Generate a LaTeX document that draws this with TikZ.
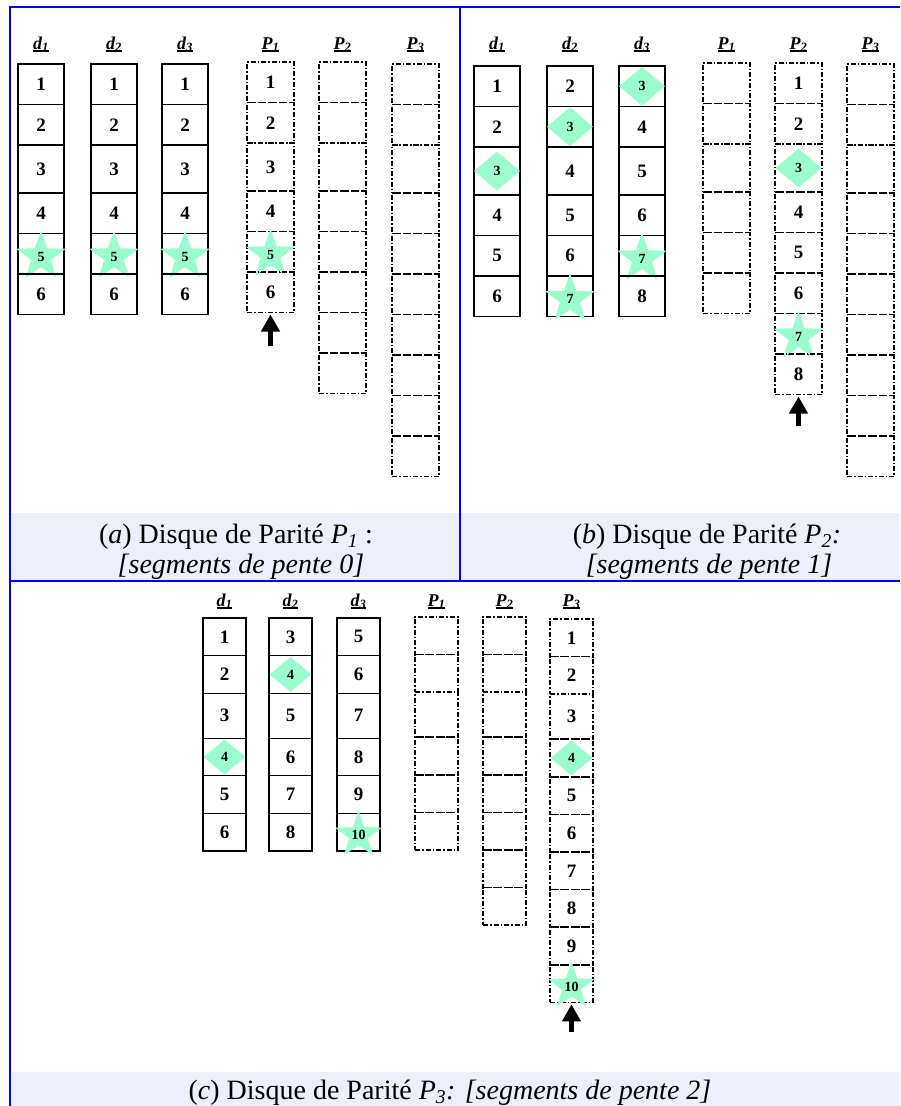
\documentclass[tikz,border=0pt]{standalone}
\usepackage{fontspec}
\setmainfont{Liberation Serif}
\usetikzlibrary{shapes.geometric,arrows.meta}
\definecolor{mint}{RGB}{155,252,206}
\definecolor{capbg}{RGB}{237,240,250}
\definecolor{frameblue}{RGB}{0,0,255}
\newcommand\myul[1]{{\setbox0\hbox{#1}\rlap{\rule[-2.6pt]{\wd0}{1.4pt}}\box0}}
\tikzset{
  cellsolid/.style={draw=black, line width=1.3pt, inner sep=0pt, outer sep=0pt,
    font=\fontsize{19}{19}\selectfont\bfseries},
  celldash/.style={draw=black, line width=1.7pt, dash pattern=on 5pt off 2pt on 1.5pt off 2pt,
    inner sep=0pt, outer sep=0pt, font=\fontsize{19}{19}\selectfont\bfseries},
  dmark/.style={diamond, fill=mint, inner sep=0pt, minimum width=46pt, minimum height=39pt,
    font=\fontsize{14}{14}\selectfont\bfseries},
  smark/.style={star, star points=5, star point ratio=2.5, fill=mint, inner sep=0pt,
    minimum size=52pt, font=\fontsize{14}{14}\selectfont\bfseries},
  lbl/.style={anchor=base, inner sep=0pt, font=\fontsize{18}{18}\selectfont\bfseries\itshape},
  captext/.style={anchor=base, inner sep=0pt, font=\fontsize{28}{28}\selectfont},
  framel/.style={draw=frameblue, line width=2pt},
  uparrow/.style={line width=5pt, -{Triangle[width=18pt,length=17pt]}}
}
% #1 name, #2 x left, #3 y top, #4 width, #5 row height, #6 tall row height, #7 style, #8 list
\newcommand\mkcol[8]{%
  \foreach [count=\i] \t/\l in {#8} {%
    \pgfmathsetmacro\ytop{#3+(\i-1)*#5+(\i>3)*(#6-#5)}%
    \pgfmathsetmacro\hgt{#5+(\i==3)*(#6-#5)}%
    \pgfmathsetmacro\xc{#2+#4/2}%
    \pgfmathsetmacro\yc{\ytop+\hgt/2}%
    \node[#7, minimum width=#4pt, minimum height=\hgt pt] (#1-\i) at (\xc,\yc) {\if n\t\l\fi};
    \if d\t \node[dmark] (#1-\i-m) at (#1-\i.center) {\l};\fi
    \if s\t \node[smark] (#1-\i-m) at ([yshift=-3pt]#1-\i.center) {\l};\fi
  }%
}
\begin{document}
\begin{tikzpicture}[x=1pt,y=-1pt]
\useasboundingbox (0,0) rectangle (900,1106);
% caption backgrounds
\fill[capbg] (11,513) rectangle (459,580);
\fill[capbg] (461,513) rectangle (900,580);
\fill[capbg] (11,1072) rectangle (900,1106);

% ---------------- panel (a)
\mkcol{a-d1}{18}{64}{46}{40.5}{48}{cellsolid}{n/1,n/2,n/3,n/4,s/5,n/6}
\mkcol{a-d2}{91}{64}{46}{40.5}{48}{cellsolid}{n/1,n/2,n/3,n/4,s/5,n/6}
\mkcol{a-d3}{162}{64}{46}{40.5}{48}{cellsolid}{n/1,n/2,n/3,n/4,s/5,n/6}
\mkcol{a-P1}{247}{62}{47}{40.5}{48}{celldash}{n/1,n/2,n/3,n/4,s/5,n/6}
\mkcol{a-P2}{319}{62}{47}{40.5}{48}{celldash}{e/{},e/{},e/{},e/{},e/{},e/{},e/{},e/{}}
\mkcol{a-P3}{392}{64}{47}{40.5}{48}{celldash}{e/{},e/{},e/{},e/{},e/{},e/{},e/{},e/{},e/{},e/{}}
\node[lbl] (a-l1) at (41,49) {\myul{d\textsubscript{1}}};
\node[lbl] (a-l2) at (114,49) {\myul{d\textsubscript{2}}};
\node[lbl] (a-l3) at (185,49) {\myul{d\textsubscript{3}}};
\node[lbl] (a-l4) at (270.5,49) {\myul{P\textsubscript{1}}};
\node[lbl] (a-l5) at (342.5,49) {\myul{P\textsubscript{2}}};
\node[lbl] (a-l6) at (415.5,49) {\myul{P\textsubscript{3}}};
\coordinate (a-arr) at (270.5,346);
\draw[uparrow] (a-arr) -- ([yshift=-2pt]a-P1-6.south);
\node[captext] (capa1) at (236,543) {(\textit{a}) Disque de Parité \textit{P\textsubscript{1}} :};
\node[captext] (capa2) at (241,573) {\textit{[segments de pente 0]}};

% ---------------- panel (b)
\mkcol{b-d1}{474}{66}{46}{40.5}{48}{cellsolid}{n/1,n/2,d/3,n/4,n/5,n/6}
\mkcol{b-d2}{547}{66}{46}{40.5}{48}{cellsolid}{n/2,d/3,n/4,n/5,n/6,s/7}
\mkcol{b-d3}{619}{66}{46}{40.5}{48}{cellsolid}{d/3,n/4,n/5,n/6,s/7,n/8}
\mkcol{b-P1}{703}{63}{47}{40.5}{48}{celldash}{e/{},e/{},e/{},e/{},e/{},e/{}}
\mkcol{b-P2}{775}{63}{47}{40.5}{48}{celldash}{n/1,n/2,d/3,n/4,n/5,n/6,s/7,n/8}
\mkcol{b-P3}{847}{64}{47}{40.5}{48}{celldash}{e/{},e/{},e/{},e/{},e/{},e/{},e/{},e/{},e/{},e/{}}
\node[lbl] (b-l1) at (497,49) {\myul{d\textsubscript{1}}};
\node[lbl] (b-l2) at (570,49) {\myul{d\textsubscript{2}}};
\node[lbl] (b-l3) at (642,49) {\myul{d\textsubscript{3}}};
\node[lbl] (b-l4) at (726.5,49) {\myul{P\textsubscript{1}}};
\node[lbl] (b-l5) at (798.5,49) {\myul{P\textsubscript{2}}};
\node[lbl] (b-l6) at (870.5,49) {\myul{P\textsubscript{3}}};
\coordinate (b-arr) at (798.5,426);
\draw[uparrow] (b-arr) -- ([yshift=-2pt]b-P2-8.south);
\node[captext] (capb1) at (707,543) {(\textit{b}) Disque de Parité \textit{P\textsubscript{2}:}};
\node[captext] (capb2) at (709,573) {\textit{[segments de pente 1]}};

% ---------------- panel (c)
\begin{scope}[dmark/.append style={minimum width=42pt, minimum height=35pt},
              smark/.append style={minimum size=47pt}]
\mkcol{c-d1}{203}{618}{43}{37.6}{45}{cellsolid}{n/1,n/2,n/3,d/4,n/5,n/6}
\mkcol{c-d2}{269}{618}{43}{37.6}{45}{cellsolid}{n/3,d/4,n/5,n/6,n/7,n/8}
\mkcol{c-d3}{337}{618}{43}{37.6}{45}{cellsolid}{n/5,n/6,n/7,n/8,n/9,s/10}
\mkcol{c-P1}{415}{617}{43}{37.6}{45}{celldash}{e/{},e/{},e/{},e/{},e/{},e/{}}
\mkcol{c-P2}{483}{617}{43}{37.6}{45}{celldash}{e/{},e/{},e/{},e/{},e/{},e/{},e/{},e/{}}
\mkcol{c-P3}{550}{619}{43}{37.6}{45}{celldash}{n/1,n/2,n/3,d/4,n/5,n/6,n/7,n/8,n/9,s/10}
\end{scope}
\node[lbl] (c-l1) at (224.5,606) {\myul{d\textsubscript{1}}};
\node[lbl] (c-l2) at (290.5,606) {\myul{d\textsubscript{2}}};
\node[lbl] (c-l3) at (358.5,606) {\myul{d\textsubscript{3}}};
\node[lbl] (c-l4) at (436.5,606) {\myul{P\textsubscript{1}}};
\node[lbl] (c-l5) at (504.5,606) {\myul{P\textsubscript{2}}};
\node[lbl] (c-l6) at (571.5,606) {\myul{P\textsubscript{3}}};
\coordinate (c-arr) at (571.5,1032);
\draw[uparrow] (c-arr) -- ([yshift=-2pt]c-P3-10.south);
\node[captext] (capc) at (450,1099) {(\textit{c}) Disque de Parité \textit{P\textsubscript{3}:} \textit{[segments de pente 2]}};

% ---------------- blue frame
\draw[framel] (10,1106) -- (10,6.5) -- (900,6.5);
\draw[framel] (460,6.5) -- (460,581);
\draw[framel] (10,581) -- (900,581);
\end{tikzpicture}
\end{document}
